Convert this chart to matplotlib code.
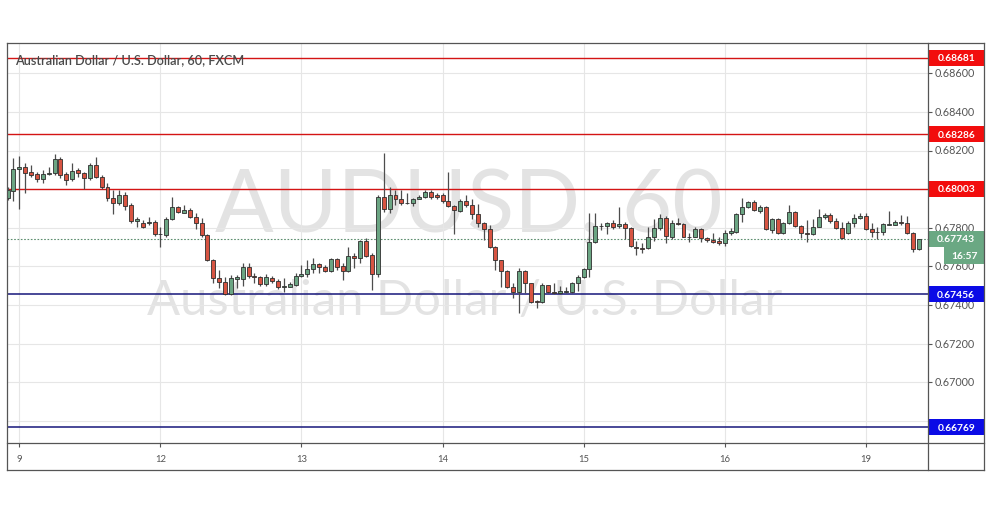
import matplotlib
matplotlib.use("Agg")
import matplotlib.pyplot as plt
import matplotlib.transforms as mtransforms
from matplotlib.patches import Rectangle
from matplotlib.lines import Line2D
import numpy as np

# ---------------- data ----------------
opens = [0.67952, 0.67992, 0.68102, 0.68113, 0.68089, 0.68078, 0.68051, 0.68078, 0.68082, 0.68154,
         0.68078, 0.68051, 0.68099, 0.68082, 0.68059, 0.68125, 0.68061, 0.68013, 0.67952, 0.67927,
         0.67968, 0.67916, 0.67833, 0.67826, 0.67823, 0.67828, 0.67768, 0.67764, 0.67847, 0.67906,
         0.67878, 0.67892, 0.67854, 0.67823, 0.67761, 0.67633, 0.67538, 0.67517, 0.67457, 0.67536,
         0.67533, 0.67595, 0.67552, 0.67543, 0.67509, 0.67542, 0.67523, 0.67492, 0.67495, 0.67505,
         0.67550, 0.67559, 0.67585, 0.67611, 0.67599, 0.67574, 0.67638, 0.67602, 0.67574, 0.67654,
         0.67642, 0.67731, 0.67659, 0.67559, 0.67958, 0.67895, 0.67968, 0.67947, 0.67930, 0.67927,
         0.67951, 0.67958, 0.67987, 0.67970, 0.67968, 0.67939, 0.67913, 0.67889, 0.67939, 0.67916,
         0.67871, 0.67823, 0.67792, 0.67699, 0.67633, 0.67576, 0.67495, 0.67466, 0.67576, 0.67512,
         0.67421, 0.67417, 0.67502, 0.67467, 0.67461, 0.67467, 0.67467, 0.67512, 0.67545, 0.67585,
         0.67728, 0.67809, 0.67809, 0.67823, 0.67809, 0.67818, 0.67797, 0.67702, 0.67694, 0.67694,
         0.67750, 0.67797, 0.67849, 0.67754, 0.67823, 0.67818, 0.67754, 0.67754, 0.67792, 0.67745,
         0.67735, 0.67730, 0.67719, 0.67771, 0.67780, 0.67871, 0.67906, 0.67932, 0.67889, 0.67909,
         0.67788, 0.67844, 0.67771, 0.67823, 0.67883, 0.67809, 0.67771, 0.67768, 0.67806, 0.67854,
         0.67866, 0.67837, 0.67797, 0.67771, 0.67826, 0.67849, 0.67861, 0.67792, 0.67780, 0.67776,
         0.67816, 0.67816, 0.67828, 0.67823, 0.67771, 0.67688]
highs = [0.68013, 0.68163, 0.68172, 0.68134, 0.68125, 0.68091, 0.68099, 0.68116, 0.68180, 0.68165,
         0.68091, 0.68134, 0.68108, 0.68091, 0.68134, 0.68166, 0.68073, 0.68030, 0.67996, 0.67996,
         0.67987, 0.67927, 0.67858, 0.67840, 0.67854, 0.67840, 0.67806, 0.67858, 0.67961, 0.67913,
         0.67918, 0.67901, 0.67875, 0.67849, 0.67768, 0.67637, 0.67581, 0.67547, 0.67555, 0.67555,
         0.67616, 0.67616, 0.67568, 0.67550, 0.67561, 0.67550, 0.67533, 0.67538, 0.67521, 0.67564,
         0.67607, 0.67633, 0.67642, 0.67616, 0.67607, 0.67642, 0.67642, 0.67616, 0.67699, 0.67668,
         0.67737, 0.67745, 0.67668, 0.67970, 0.68185, 0.68013, 0.67996, 0.67996, 0.67978, 0.67952,
         0.67970, 0.67996, 0.67996, 0.67978, 0.67978, 0.68091, 0.67918, 0.67947, 0.67970, 0.67947,
         0.67923, 0.67832, 0.67814, 0.67706, 0.67633, 0.67581, 0.67512, 0.67593, 0.67581, 0.67516,
         0.67426, 0.67512, 0.67505, 0.67516, 0.67498, 0.67495, 0.67521, 0.67555, 0.67590, 0.67875,
         0.67875, 0.67826, 0.67832, 0.67840, 0.67909, 0.67832, 0.67806, 0.67733, 0.67719, 0.67806,
         0.67844, 0.67871, 0.67861, 0.67840, 0.67849, 0.67826, 0.67771, 0.67806, 0.67797, 0.67754,
         0.67771, 0.67754, 0.67788, 0.67797, 0.67878, 0.67952, 0.67940, 0.67944, 0.67918, 0.67913,
         0.67849, 0.67849, 0.67832, 0.67918, 0.67889, 0.67814, 0.67840, 0.67844, 0.67895, 0.67875,
         0.67875, 0.67849, 0.67832, 0.67837, 0.67871, 0.67875, 0.67875, 0.67823, 0.67806, 0.67826,
         0.67889, 0.67840, 0.67866, 0.67861, 0.67780, 0.67744]
lows = [0.67944, 0.67940, 0.67897, 0.67978, 0.68065, 0.68039, 0.68033, 0.68073, 0.68073, 0.68056,
        0.68021, 0.68044, 0.68065, 0.67999, 0.68047, 0.68056, 0.67999, 0.67940, 0.67869, 0.67918,
        0.67892, 0.67826, 0.67802, 0.67797, 0.67814, 0.67757, 0.67702, 0.67754, 0.67840, 0.67875,
        0.67875, 0.67849, 0.67792, 0.67754, 0.67630, 0.67512, 0.67486, 0.67452, 0.67452, 0.67486,
        0.67498, 0.67538, 0.67516, 0.67498, 0.67498, 0.67516, 0.67481, 0.67469, 0.67492, 0.67498,
        0.67543, 0.67547, 0.67568, 0.67564, 0.67569, 0.67571, 0.67581, 0.67530, 0.67573, 0.67590,
        0.67616, 0.67650, 0.67478, 0.67547, 0.67883, 0.67878, 0.67918, 0.67918, 0.67923, 0.67913,
        0.67947, 0.67952, 0.67947, 0.67947, 0.67930, 0.67909, 0.67768, 0.67883, 0.67909, 0.67844,
        0.67802, 0.67737, 0.67694, 0.67581, 0.67495, 0.67486, 0.67435, 0.67357, 0.67461, 0.67409,
        0.67383, 0.67409, 0.67461, 0.67457, 0.67457, 0.67461, 0.67464, 0.67474, 0.67538, 0.67547,
        0.67723, 0.67788, 0.67768, 0.67792, 0.67797, 0.67740, 0.67702, 0.67659, 0.67668, 0.67688,
        0.67733, 0.67788, 0.67719, 0.67740, 0.67814, 0.67750, 0.67728, 0.67750, 0.67728, 0.67728,
        0.67723, 0.67711, 0.67706, 0.67762, 0.67771, 0.67832, 0.67901, 0.67889, 0.67875, 0.67788,
        0.67771, 0.67768, 0.67768, 0.67820, 0.67806, 0.67745, 0.67728, 0.67762, 0.67802, 0.67844,
        0.67826, 0.67792, 0.67740, 0.67768, 0.67806, 0.67844, 0.67788, 0.67754, 0.67740, 0.67762,
        0.67814, 0.67813, 0.67814, 0.67768, 0.67676, 0.67685]
closes = [0.67996, 0.68102, 0.68115, 0.68085, 0.68075, 0.68051, 0.68078, 0.68085, 0.68154, 0.68073,
          0.68047, 0.68096, 0.68082, 0.68059, 0.68125, 0.68061, 0.68013, 0.67952, 0.67927, 0.67968,
          0.67914, 0.67833, 0.67844, 0.67802, 0.67832, 0.67766, 0.67766, 0.67847, 0.67906, 0.67880,
          0.67892, 0.67854, 0.67823, 0.67761, 0.67633, 0.67538, 0.67517, 0.67457, 0.67538, 0.67543,
          0.67595, 0.67552, 0.67543, 0.67509, 0.67543, 0.67523, 0.67492, 0.67498, 0.67509, 0.67550,
          0.67559, 0.67585, 0.67611, 0.67595, 0.67574, 0.67638, 0.67599, 0.67574, 0.67654, 0.67642,
          0.67731, 0.67655, 0.67559, 0.67958, 0.67895, 0.67968, 0.67947, 0.67927, 0.67927, 0.67951,
          0.67958, 0.67987, 0.67958, 0.67958, 0.67939, 0.67913, 0.67892, 0.67939, 0.67916, 0.67871,
          0.67823, 0.67792, 0.67699, 0.67633, 0.67576, 0.67495, 0.67466, 0.67576, 0.67512, 0.67417,
          0.67417, 0.67502, 0.67467, 0.67461, 0.67473, 0.67473, 0.67512, 0.67545, 0.67585, 0.67728,
          0.67809, 0.67807, 0.67823, 0.67806, 0.67820, 0.67797, 0.67706, 0.67694, 0.67690, 0.67750,
          0.67797, 0.67849, 0.67757, 0.67823, 0.67818, 0.67754, 0.67750, 0.67792, 0.67745, 0.67735,
          0.67728, 0.67719, 0.67771, 0.67783, 0.67871, 0.67906, 0.67932, 0.67892, 0.67909, 0.67792,
          0.67844, 0.67771, 0.67823, 0.67883, 0.67809, 0.67771, 0.67768, 0.67806, 0.67854, 0.67866,
          0.67837, 0.67797, 0.67745, 0.67826, 0.67849, 0.67861, 0.67792, 0.67776, 0.67776, 0.67820,
          0.67820, 0.67828, 0.67823, 0.67771, 0.67688, 0.67743]

day_labels = ["9", "12", "13", "14", "15", "16", "19"]
first_day_start = 2          # index of first hourly bar of day "9"
bars_per_day = 24

resistance_levels = [0.68681, 0.68286, 0.68003]
support_levels = [0.67456, 0.66769]
countdown = "16:57"

title = "Australian Dollar / U.S. Dollar, 60, FXCM"
watermark_symbol = "AUDUSD, 60"
watermark_name = "Australian Dollar / U.S. Dollar"

# ---------------- figure / layout ----------------
W, H = 991, 507
fig = plt.figure(figsize=(W / 100, H / 100), dpi=100)
fig.patch.set_facecolor("white")
renderer = fig.canvas.get_renderer()
FONT = ["Lato", "DejaVu Sans"]


def fx(px):
    return px / W


def fy(py):
    return 1 - py / H


L, R, T, B = 6.7, 928.3, 42.7, 443.3
RR, BB = 984.3, 470.3

ax = fig.add_axes([fx(L), fy(B), fx(R) - fx(L), fy(T) - fy(B)])
ymin, ymax = 0.666839, 0.687585
n = len(closes)
ax.set_xlim(-0.15, 156.65)
ax.set_ylim(ymin, ymax)
ax.set_facecolor("white")
for s in ax.spines.values():
    s.set_visible(False)

px_per_unit = (B - T) / (ymax - ymin)


def fit(text, target, weight="normal", base=20):
    t = fig.text(0, 0, text, fontsize=base, family=FONT, fontweight=weight)
    w = t.get_window_extent(renderer=renderer).width
    t.remove()
    return base * target / w


fs_price = fit("0.68600", 40)
fs_box = fit("0.68681", 38, weight="bold")
fs_day = fit("12", 11)
fs_title = fit(title, 231, weight="semibold")
fs_wm1 = fit(watermark_symbol, 507)
fs_wm2 = fit(watermark_name, 635)

# ---------------- grid ----------------
day_pos = [first_day_start + bars_per_day * k for k in range(len(day_labels))]
grid_prices = np.round(np.arange(0.668, 0.6861, 0.002), 3)
for v in grid_prices:
    ax.axhline(v, color="#e6e6e6", lw=0.8, zorder=1)
for p in day_pos:
    ax.axvline(p, color="#e6e6e6", lw=0.8, zorder=1)

# ---------------- watermark ----------------
ax.text(fx(468.5), fy(231.7), watermark_symbol, transform=fig.transFigure,
        ha="center", va="baseline", fontsize=fs_wm1, family=FONT, color="#e3e3e3", zorder=0.5)
ax.text(fx(464.5), fy(315), watermark_name, transform=fig.transFigure,
        ha="center", va="baseline", fontsize=fs_wm2, family=FONT, color="#e3e3e3", zorder=0.5)

# ---------------- levels ----------------
for v in resistance_levels:
    ax.axhline(v, color="#d41414", lw=1.0, zorder=2)
for v in support_levels:
    ax.axhline(v, color="#16167a", lw=1.1, zorder=2)

last = closes[-1]
ax.axhline(last, color="#5d8f6f", lw=0.8, ls=(0, (1.5, 1.5)), zorder=2)

# ---------------- candles ----------------
x = np.arange(n)
o = np.array(opens)
c = np.array(closes)
hi = np.array(highs)
lo = np.array(lows)
up = c >= o
body_bottom = np.minimum(o, c)
body_h = np.maximum(np.abs(c - o), 0.000012)
face = np.where(up, "#6BA583", "#D75442")
ax.vlines(x, lo, hi, colors="#4d4d4d", lw=0.9, zorder=3)
ax.bar(x, body_h, bottom=body_bottom, width=0.68, color=face,
       edgecolor="#2e2e2e", linewidth=0.6, zorder=4)

# ---------------- ticks ----------------
ax.yaxis.tick_right()
ax.set_yticks(grid_prices)
ax.set_xticks(day_pos)
ax.tick_params(axis="y", direction="out", length=3, width=0.8, color="#555555",
               labelright=False, labelleft=False)
ax.tick_params(axis="x", direction="out", length=3, width=0.8, color="#555555",
               labelbottom=False)

blend = mtransforms.blended_transform_factory(ax.transAxes, ax.transData)


def ax_x(px):
    return (px - L) / (R - L)


def base_off(fs):
    return mtransforms.offset_copy(blend, fig=fig, y=-0.36 * fs, units="points")


box_h = 16 / px_per_unit
all_levels = resistance_levels + support_levels
for v in grid_prices:
    # labels fully covered by a level box are not visible in the original
    if any(abs(v - lv) < box_h / 2 for lv in all_levels):
        continue
    ax.text(ax_x(935), v, f"{v:.5f}", transform=base_off(fs_price), ha="left",
            va="baseline", fontsize=fs_price, family=FONT, color="#555555",
            clip_on=False, zorder=5)

for lab, p in zip(day_labels, day_pos):
    ax.text(p, fy(462.3), lab, transform=mtransforms.blended_transform_factory(ax.transData, fig.transFigure),
            ha="center", va="baseline", fontsize=fs_day, family=FONT, color="#555555", clip_on=False)

# ---------------- price boxes ----------------
box_x0, box_x1 = ax_x(928.3), ax_x(984.0)


def price_box(v, col, h=box_h):
    ax.add_patch(Rectangle((box_x0, v - h / 2), box_x1 - box_x0, h, transform=blend,
                           facecolor=col, edgecolor="none", clip_on=False, zorder=8))
    ax.text((box_x0 + box_x1) / 2, v, f"{v:.5f}", transform=base_off(fs_box), ha="center",
            va="baseline", fontsize=fs_box, fontweight="bold", family=FONT, color="white",
            clip_on=False, zorder=9)


for v in resistance_levels:
    price_box(v, "#f20d0d")
for v in support_levels:
    price_box(v, "#0b0be6")

last_h = 16 / px_per_unit
price_box(last, "#6aa883", h=last_h)
cd_h = 17 / px_per_unit
cd_x0 = ax_x(944.3)
ax.add_patch(Rectangle((cd_x0, last - last_h / 2 - cd_h), box_x1 - cd_x0, cd_h, transform=blend,
                       facecolor="#6aa883", edgecolor="none", clip_on=False, zorder=8))
ax.text((cd_x0 + box_x1) / 2, last - last_h / 2 - cd_h / 2, countdown, transform=base_off(fs_box),
        ha="center", va="baseline", fontsize=fs_box, fontweight="bold", family=FONT,
        color="white", clip_on=False, zorder=9)

# ---------------- title ----------------
fig.text(fx(15.5), fy(64.2), title, ha="left", va="baseline", fontsize=fs_title,
         family=FONT, fontweight="semibold", color="#4a4a4a", zorder=10)

# ---------------- frame ----------------
fc = "#555555"
flw = 0.9
segs = [
    ((L, RR), (T, T)),
    ((L, RR), (BB, BB)),
    ((L, L), (T, BB)),
    ((RR, RR), (T, BB)),
    ((R, R), (T, BB)),
    ((L, RR), (B, B)),
]
for xs, ys in segs:
    fig.add_artist(Line2D([fx(xs[0]), fx(xs[1])], [fy(ys[0]), fy(ys[1])],
                          transform=fig.transFigure, color=fc, lw=flw, zorder=20))

fig.savefig("out.png", dpi=100, facecolor="white")
